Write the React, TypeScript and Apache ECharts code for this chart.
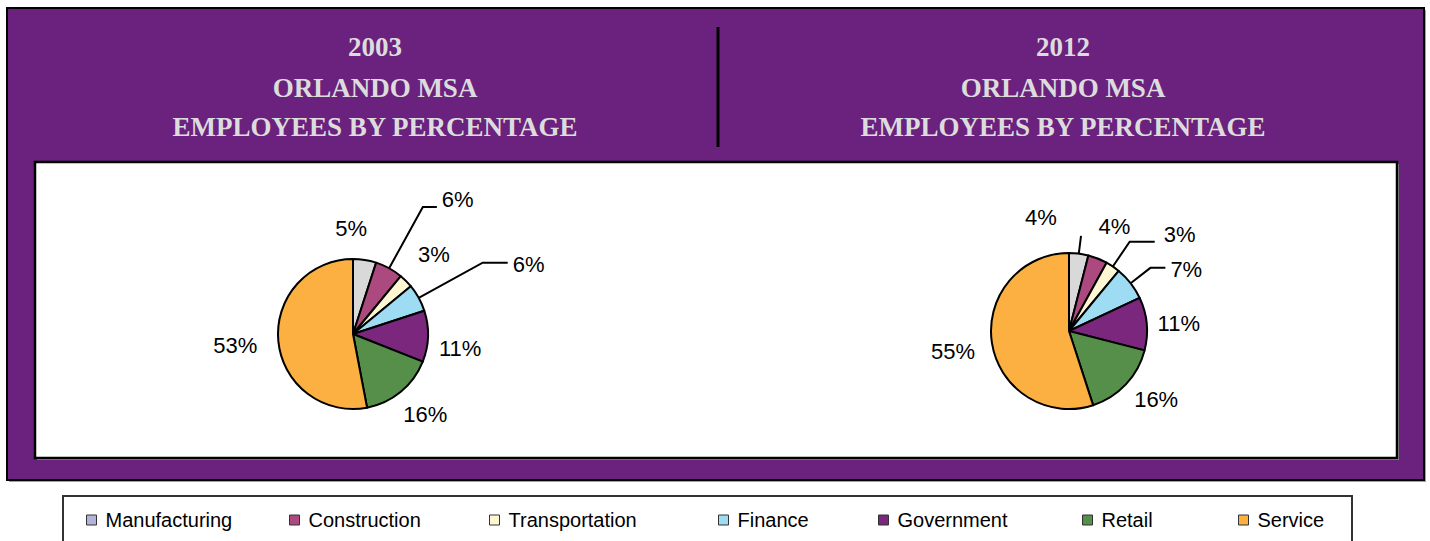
import React, { useEffect, useRef } from "react";
import * as echarts from "echarts";

const categories = ["Manufacturing", "Construction", "Transportation", "Finance", "Government", "Retail", "Service"];
const values2003 = [5, 6, 3, 6, 11, 16, 53];
const values2012 = [4, 4, 3, 7, 11, 16, 55];
const titles2003 = ["2003", "ORLANDO MSA", "EMPLOYEES BY PERCENTAGE"];
const titles2012 = ["2012", "ORLANDO MSA", "EMPLOYEES BY PERCENTAGE"];

const sliceColors = ["#d9d9d9", "#ac4a80", "#fdf8d3", "#9ddcf2", "#7a277d", "#558f4a", "#fbb041"];
const legendColors = ["#b4b4da", "#ac4a80", "#fdf8d3", "#9ddcf2", "#7a277d", "#558f4a", "#fbb041"];

// label line styling per slice: [show, length, length2]
const lines2003: [boolean, number, number][] = [
  [false, 10, 0], [true, 70, 14], [false, 10, 0], [true, 73, 25], [false, 10, 0], [false, 10, 0], [false, 10, 0],
];
const offsets2003 = [[-36, -22], [0, -7], [0, -19], [0, 2], [-4, 12], [-9, 15], [-6, 4]];
const lines2012: [boolean, number, number][] = [
  [true, 18, 0], [false, 10, 0], [true, 30, 25], [true, 25, 15], [false, 10, 0], [false, 10, 0], [false, 10, 0],
];
const offsets2012 = [[-61, -18], [-8, -23], [4, -7], [0, 2], [-4, 1], [-4, 8], [-2, 7]];

const legendLefts = [86, 289, 489, 718, 878, 1082, 1238];

const LABEL_FONT = '"Liberation Sans", Arial, sans-serif';
const TITLE_FONT = '"Liberation Serif", "Times New Roman", serif';

function buildData(values: number[], lines: [boolean, number, number][]) {
  return categories.map((name, i) => ({
    name,
    value: values[i],
    itemStyle: { color: sliceColors[i] },
    labelLine: {
      show: lines[i][0],
      length: lines[i][1],
      length2: lines[i][2],
      lineStyle: { color: "#000", width: 2 },
    },
  }));
}

function pieSeries(values: number[], lines: [boolean, number, number][], offsets: number[][], center: number[], radius: number) {
  return {
    type: "pie",
    z: 10,
    center,
    radius,
    startAngle: 90,
    clockwise: true,
    avoidLabelOverlap: false,
    itemStyle: { borderColor: "#000", borderWidth: 2 },
    label: {
      show: true,
      position: "outside",
      formatter: "{c}%",
      color: "#000",
      fontSize: 22,
      fontFamily: LABEL_FONT,
      distanceToLabelLine: 5,
    },
    labelLine: { show: false },
    labelLayout: (params: any) => {
      const o = offsets[params.dataIndex] || [0, 0];
      return { dx: o[0], dy: o[1] };
    },
    emphasis: { disabled: true },
    data: buildData(values, lines),
  };
}

function titleTexts(lines: string[], cx: number) {
  const ys = [47, 88, 127];
  return lines.map((t, i) => ({
    type: "text",
    z: 5,
    x: cx,
    y: ys[i],
    style: {
      text: t,
      fill: "#dcdcdc",
      font: `bold 27px ${TITLE_FONT}`,
      textAlign: "center",
      textVerticalAlign: "middle",
    },
  }));
}

export default function App() {
  const ref = useRef<HTMLDivElement>(null);
  useEffect(() => {
    if (!ref.current) return;
    const chart = echarts.init(ref.current, null, { renderer: "svg" });
    const option: any = {
      animation: false,
      backgroundColor: "#ffffff",
      graphic: [
        { type: "rect", z: 1, shape: { x: 9, y: 10, width: 1417, height: 472 }, style: { fill: "#a0a0a0" } },
        { type: "rect", z: 1, shape: { x: 7, y: 8, width: 1417, height: 472 }, style: { fill: "#6b227e", stroke: "#000", lineWidth: 2 } },
        { type: "rect", z: 2, shape: { x: 37, y: 164, width: 1362, height: 296 }, style: { fill: "#9a9a9a" } },
        { type: "rect", z: 2, shape: { x: 35, y: 162, width: 1362, height: 296 }, style: { fill: "#ffffff", stroke: "#000", lineWidth: 2.5 } },
        { type: "line", z: 2, shape: { x1: 718, y1: 27, x2: 718, y2: 147 }, style: { stroke: "#000", lineWidth: 3 } },
        { type: "rect", z: 2, shape: { x: 63, y: 496, width: 1289, height: 60 }, style: { fill: "#ffffff", stroke: "#333", lineWidth: 2 } },
        ...titleTexts(titles2003, 375),
        ...titleTexts(titles2012, 1063),
      ],
      legend: categories.map((name, i) => ({
        z: 20,
        left: legendLefts[i],
        top: 510,
        orient: "horizontal",
        padding: 0,
        itemWidth: 10,
        itemHeight: 10,
        selectedMode: false,
        icon: "rect",
        data: [{ name, itemStyle: { color: legendColors[i], borderColor: "#333", borderWidth: 1 } }],
        textStyle: {
          fontFamily: LABEL_FONT,
          fontSize: 20,
          color: "#000",
          lineHeight: 20,
          padding: [0, 0, 0, 4],
        },
      })),
      series: [
        pieSeries(values2003, lines2003, offsets2003, [353, 334], 75),
        pieSeries(values2012, lines2012, offsets2012, [1069, 331], 78),
      ],
    };
    chart.setOption(option);
    return () => chart.dispose();
  }, []);
  return <div ref={ref} style={{ position: "fixed", left: 0, top: 0, width: 1430, height: 541 }} />;
}
